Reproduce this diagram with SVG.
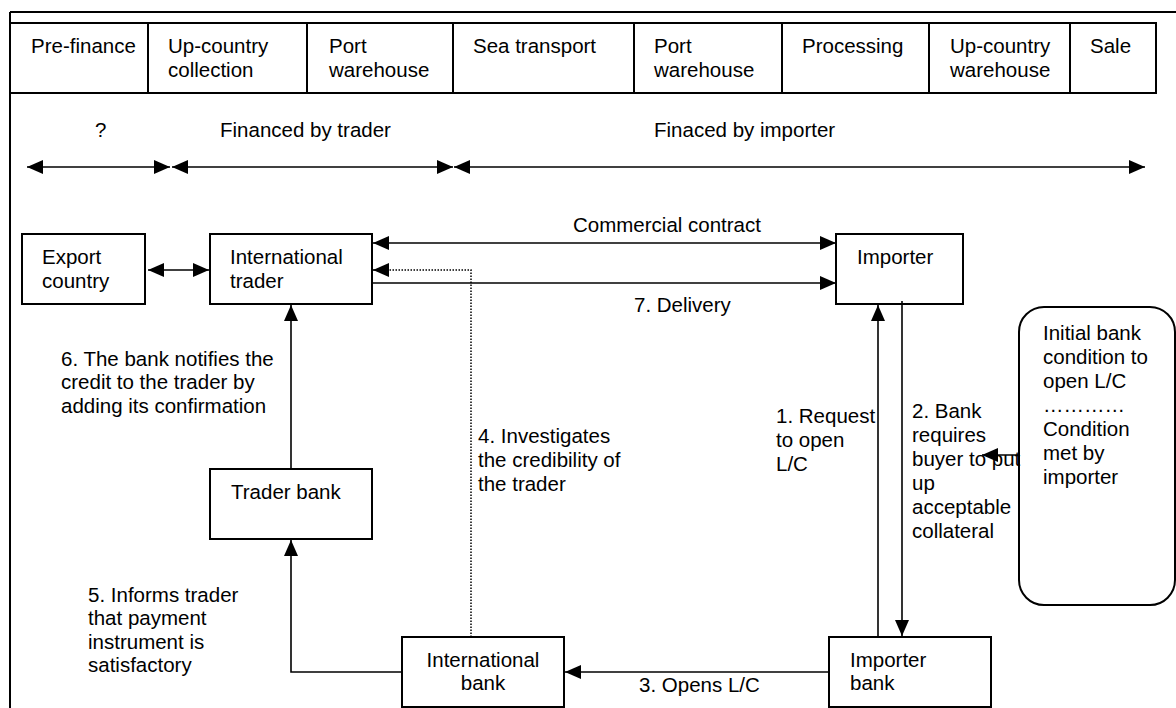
<svg xmlns="http://www.w3.org/2000/svg" width="1176" height="708" viewBox="0 0 1176 708">
<style>
text{font-family:"Liberation Sans",Arial,sans-serif;font-size:20.5px;fill:#000}
.box{fill:#fff;stroke:#000;stroke-width:2}
.ln{fill:none;stroke:#000;stroke-width:1.6}
.dot{fill:none;stroke:#000;stroke-width:1.5;stroke-dasharray:1.5 1.5}
</style>
<defs>
<marker id="ah" markerUnits="userSpaceOnUse" markerWidth="16" markerHeight="14" refX="16" refY="7" orient="auto-start-reverse"><path d="M0,0 L16,7 L0,14 z" fill="#000"/></marker>
</defs>
<rect width="1176" height="708" fill="#fff"/>
<g id="frame" class="ln" style="stroke-width:2">
<line x1="10" y1="12" x2="1176" y2="12"/>
<line x1="10" y1="12" x2="10" y2="708"/>
</g>
<g id="header">
<rect class="box" x="10" y="23" width="1146" height="70"/>
<g class="ln" style="stroke-width:2">
<line x1="148" y1="23" x2="148" y2="93"/>
<line x1="307" y1="23" x2="307" y2="93"/>
<line x1="453" y1="23" x2="453" y2="93"/>
<line x1="634" y1="23" x2="634" y2="93"/>
<line x1="782" y1="23" x2="782" y2="93"/>
<line x1="929" y1="23" x2="929" y2="93"/>
<line x1="1070" y1="23" x2="1070" y2="93"/>
</g>
<text x="31" y="53">Pre-finance</text>
<text x="168" y="53">Up-country</text><text x="168" y="77">collection</text>
<text x="329" y="53">Port</text><text x="329" y="77">warehouse</text>
<text x="473" y="53">Sea transport</text>
<text x="654" y="53">Port</text><text x="654" y="77">warehouse</text>
<text x="802" y="53">Processing</text>
<text x="950" y="53">Up-country</text><text x="950" y="77">warehouse</text>
<text x="1090" y="53">Sale</text>
</g>
<g id="financing">
<text x="95" y="137">?</text>
<text x="220" y="137">Financed by trader</text>
<text x="654" y="137">Finaced by importer</text>
</g>
<g id="export-country"><rect class="box" x="22" y="234" width="123" height="70"/><text x="42" y="264">Export</text><text x="42" y="288">country</text></g>
<g id="international-trader"><rect class="box" x="210" y="234" width="162" height="70"/><text x="230" y="264">International</text><text x="230" y="288">trader</text></g>
<g id="importer"><rect class="box" x="836" y="234" width="127" height="70"/><text x="857" y="264">Importer</text></g>
<g id="trader-bank"><rect class="box" x="210" y="469" width="162" height="70"/><text x="231" y="499">Trader bank</text></g>
<g id="international-bank"><rect class="box" x="402" y="637" width="162" height="70"/><text x="483" y="667" text-anchor="middle">International</text><text x="483" y="690" text-anchor="middle">bank</text></g>
<g id="importer-bank"><rect class="box" x="829" y="637" width="162" height="70"/><text x="850" y="667">Importer</text><text x="850" y="690">bank</text></g>
<g id="condition"><rect class="box" x="1019" y="307" width="156" height="298" rx="25" ry="25"/>
<text x="1043" y="340">Initial bank</text><text x="1043" y="364">condition to</text><text x="1043" y="388">open L/C</text><text x="1043" y="412">…………</text><text x="1043" y="436">Condition</text><text x="1043" y="460">met by</text><text x="1043" y="484">importer</text></g>
<g id="connectors">
<line class="ln" x1="27" y1="167" x2="170" y2="167" marker-start="url(#ah)" marker-end="url(#ah)"/>
<line class="ln" x1="172" y1="167" x2="453" y2="167" marker-start="url(#ah)" marker-end="url(#ah)"/>
<line class="ln" x1="454" y1="167" x2="1145" y2="167" marker-start="url(#ah)" marker-end="url(#ah)"/>
<line class="ln" x1="148" y1="270" x2="209" y2="270" marker-start="url(#ah)" marker-end="url(#ah)"/>
<line class="ln" x1="373" y1="243" x2="836" y2="243" marker-start="url(#ah)" marker-end="url(#ah)"/>
<line class="ln" x1="372" y1="283" x2="836" y2="283" marker-end="url(#ah)"/>
<path class="dot" d="M471,637 V270 H380"/>
<line class="ln" x1="381" y1="270" x2="373" y2="270" marker-end="url(#ah)"/>
<line class="ln" x1="291" y1="469" x2="291" y2="305" marker-end="url(#ah)"/>
<path class="ln" d="M402,672 H291 V540" marker-end="url(#ah)"/>
<line class="ln" x1="829" y1="672" x2="565" y2="672" marker-end="url(#ah)"/>
<line class="ln" x1="878" y1="637" x2="878" y2="305" marker-end="url(#ah)"/>
<line class="ln" x1="902" y1="301" x2="902" y2="636" marker-end="url(#ah)"/>
<line class="ln" x1="1019" y1="455" x2="982" y2="455" marker-end="url(#ah)"/>
</g>
<g id="labels">
<text x="573" y="232">Commercial contract</text>
<text x="634" y="312">7. Delivery</text>
<text x="61" y="366">6. The bank notifies the</text><text x="61" y="389">credit to the trader by</text><text x="61" y="413">adding its confirmation</text>
<text x="478" y="443">4. Investigates</text><text x="478" y="467">the credibility of</text><text x="478" y="491">the trader</text>
<text x="776" y="423">1. Request</text><text x="776" y="447">to open</text><text x="776" y="471">L/C</text>
<text x="912" y="418">2. Bank</text><text x="912" y="442">requires</text><text x="912" y="466">buyer to put</text><text x="912" y="490">up</text><text x="912" y="514">acceptable</text><text x="912" y="538">collateral</text>
<text x="88" y="602">5. Informs trader</text><text x="88" y="625">that payment</text><text x="88" y="649">instrument is</text><text x="88" y="672">satisfactory</text>
<text x="639" y="692">3. Opens L/C</text>
</g>
</svg>
